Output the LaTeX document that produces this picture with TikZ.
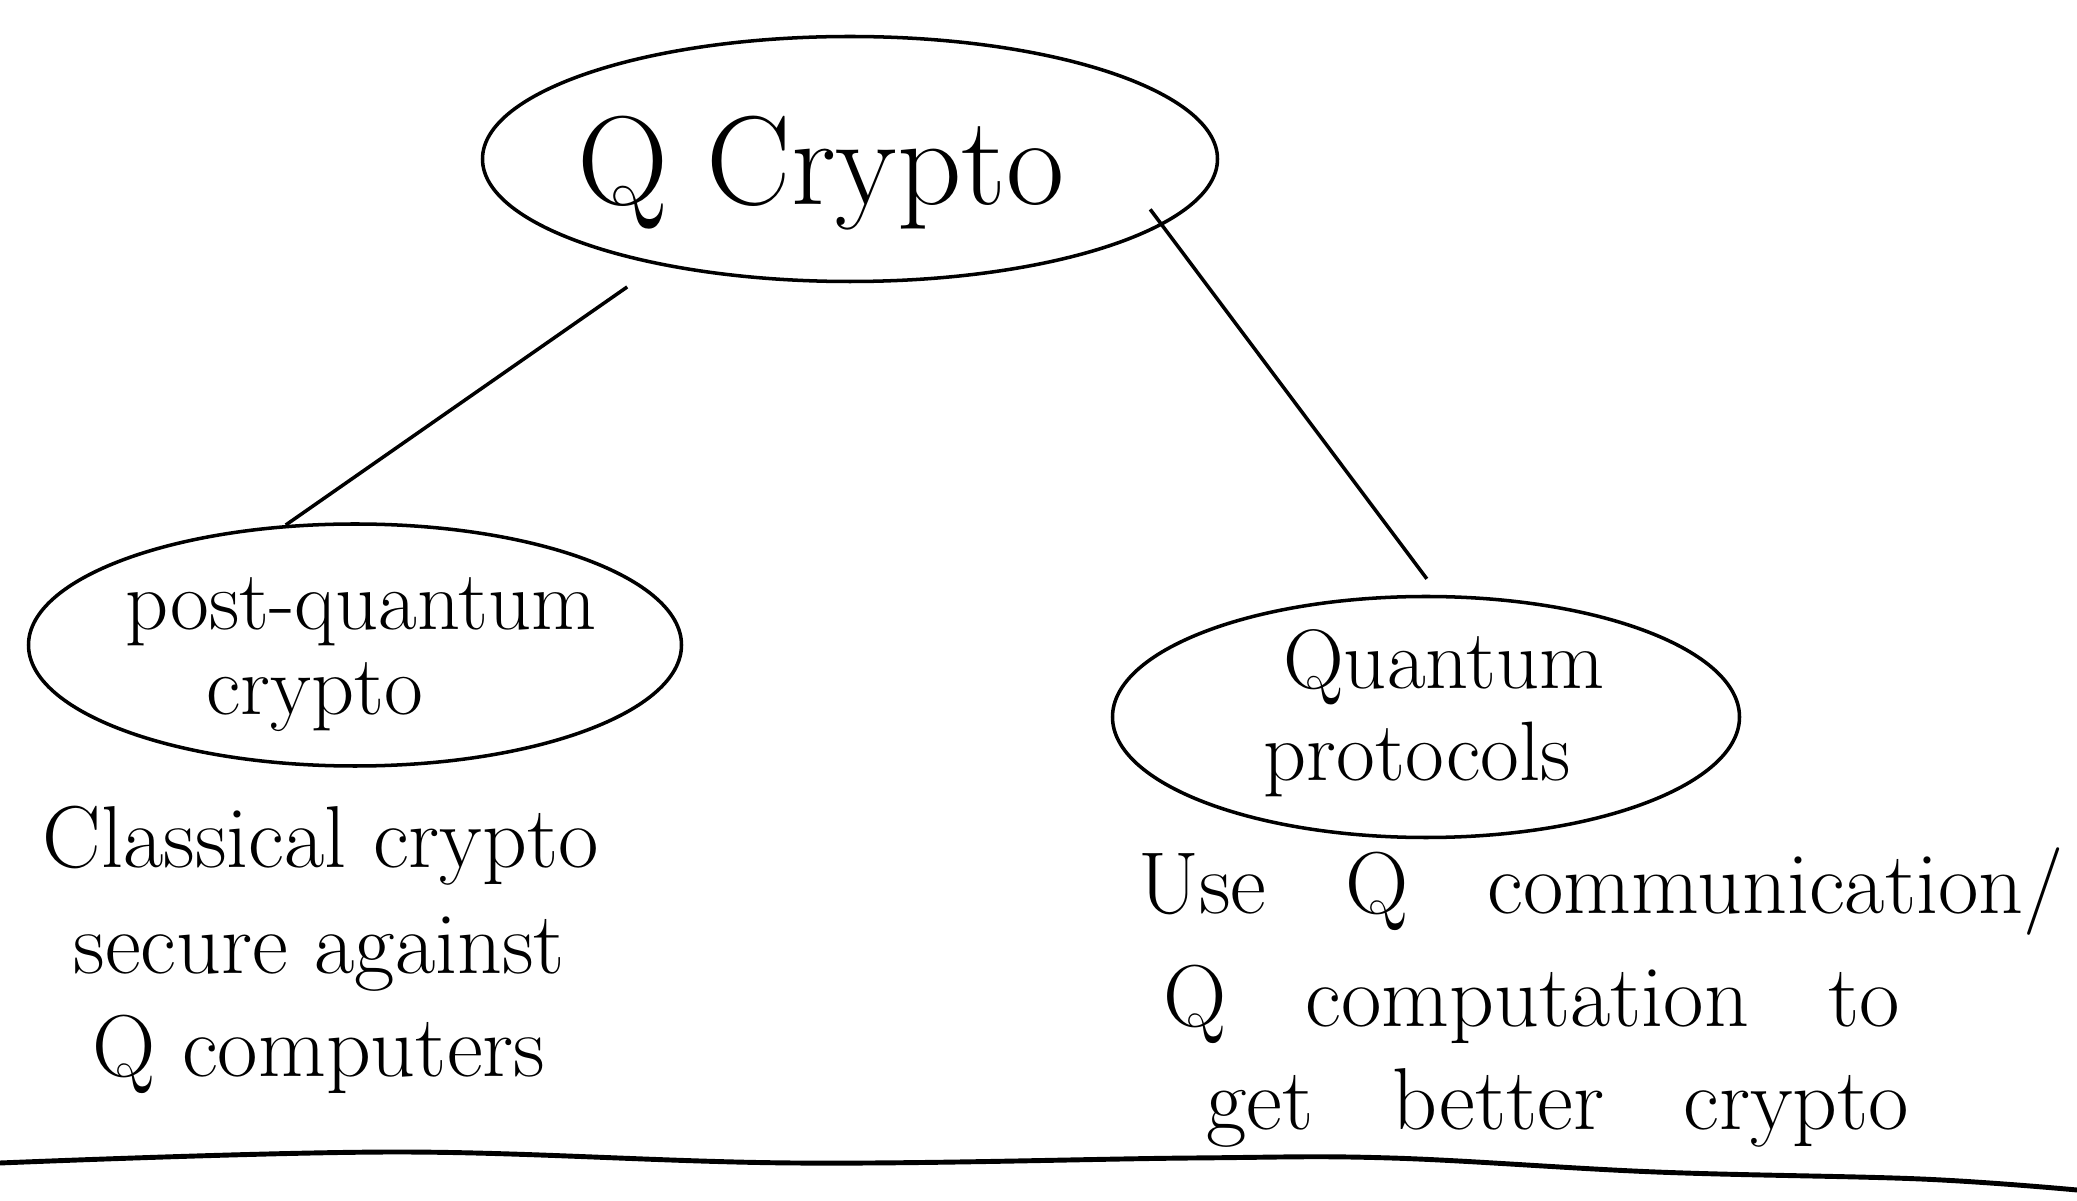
\documentclass[tikz,border=0pt]{standalone}
\usetikzlibrary{shapes.geometric}

\newcommand{\widegaps}{\spaceskip=0.9em\relax}

\tikzset{
	bubble/.style={draw, ellipse, line width=1pt, inner sep=0pt},
	bigtext/.style={font=\fontsize{36}{40}\selectfont, anchor=base},
	midtext/.style={font=\fontsize{24}{28}\selectfont, anchor=base},
	handtext/.style={font=\fontsize{25}{30}\selectfont, anchor=base west},
}

\begin{document}
\begin{tikzpicture}[line width=1pt]
		\useasboundingbox (0,0) rectangle (20.77,12);
	
		% the three bubbles
		\node[bubble, minimum width=7.35cm, minimum height=2.45cm] (qcrypto) at (8.5,10.41) {};
		\node[bigtext] (qcryptotxt) at (8.21,9.95) {Q Crypto};
	
		\node[bubble, minimum width=6.53cm, minimum height=2.42cm] (postq) at (3.55,5.55) {};
		\node[midtext] (postqa) at (3.61,5.70) {post-quantum};
		\node[midtext] (postqb) at (3.15,4.85) {crypto};
	
		\node[bubble, minimum width=6.27cm, minimum height=2.41cm] (qproto) at (14.26,4.83) {};
		\node[midtext] (qprotoa) at (14.44,5.11) {Quantum};
		\node[midtext] (qprotob) at (14.17,4.19) {protocols};
	
		% branches
		\draw[shorten <=3.8mm] (qcrypto.209.6) -- (postq.120);
		\draw[shorten <=-2mm, shorten >=2mm] (qcrypto.-12) -- (qproto.84);
	
		% notes under the bubbles
		\node[handtext] (lefta) at (0.29,3.32) {Classical crypto};
		\node[handtext] (leftb) at (0.60,2.26) {secure against};
		\node[handtext] (leftc) at (0.79,1.24) {Q computers};
	
		\node[handtext] (righta) at (11.25,2.86) {\widegaps Use Q communication/};
		\node[handtext] (rightb) at (11.50,1.73) {\widegaps Q computation to};
		\node[handtext] (rightc) at (11.93,0.71) {\widegaps get better crypto};
	
		% line at the bottom
		\draw[line width=1.4pt] plot[smooth, tension=0.6] coordinates {(0,0.37) (3.97,0.48) (7.95,0.37) (11.92,0.42) (13.91,0.42) (16.56,0.28) (19.21,0.21) (20.77,0.10)};
	
	\end{tikzpicture}
\end{document}
